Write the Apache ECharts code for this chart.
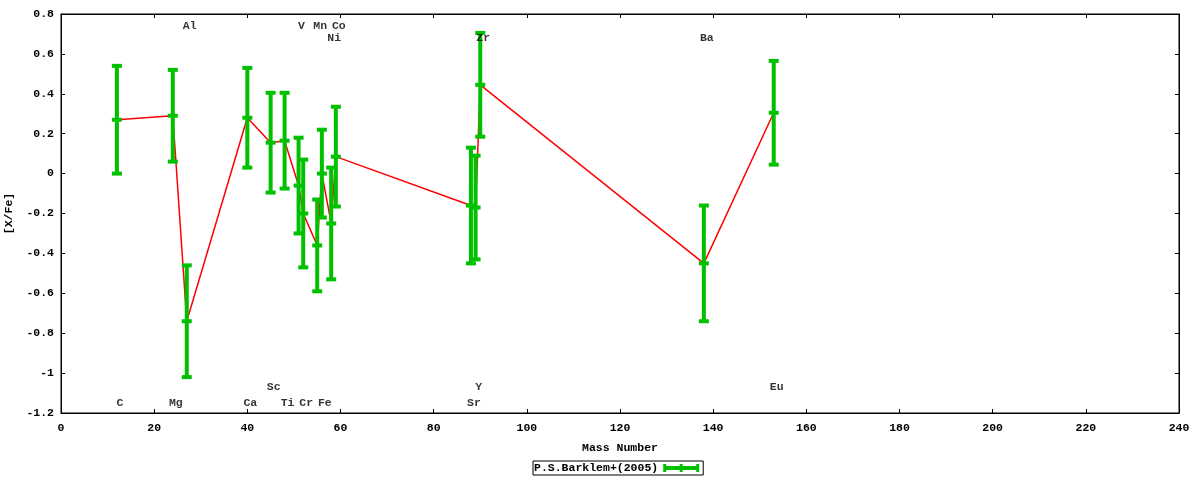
<!DOCTYPE html>
<html lang="en">
<head>
    <meta charset="UTF-8">
    <title>[X/Fe] vs Mass Number</title>
    <script src="https://cdn.jsdelivr.net/npm/echarts@6/dist/echarts.min.js"></script>
    <style>
        html, body { margin: 0; padding: 0; background: #fff; }
        #chart { width: 1200px; height: 480px; }
    </style>
</head>
<body>
<div id="chart"></div>
<script>
// abundance data, one entry per element (mass number, [X/Fe], error)
var masses = [12, 24, 27, 40, 45, 48, 51, 52, 55, 56, 58, 59, 88, 89, 90, 138, 153];
var values = [0.27, 0.29, -0.74, 0.28, 0.155, 0.165, -0.06, -0.20, -0.36, 0.00, -0.25, 0.085, -0.16, -0.17, 0.445, -0.45, 0.305];
var errors = [0.27, 0.23, 0.28, 0.25, 0.25, 0.24, 0.24, 0.27, 0.23, 0.22, 0.28, 0.25, 0.29, 0.26, 0.26, 0.29, 0.26];

// element labels: name, mass, y position
var labelNames = ['C', 'Mg', 'Al', 'Ca', 'Sc', 'Ti', 'V', 'Cr', 'Mn', 'Fe', 'Ni', 'Co', 'Sr', 'Y', 'Zr', 'Ba', 'Eu'];
var labelMass  = [12, 24, 27, 40, 45, 48, 51, 52, 55, 56, 58, 59, 88, 89, 90, 138, 153];
var labelY     = [-1.15, -1.15, 0.74, -1.15, -1.07, -1.15, 0.74, -1.15, 0.74, -1.15, 0.68, 0.74, -1.15, -1.07, 0.68, 0.68, -1.07];

var seriesName = 'P.S.Barklem+(2005)';
var green = '#00c000';
var font = 'Liberation Mono';

var errData = masses.map(function (m, i) { return [m, values[i], errors[i]]; });
var lineData = masses.map(function (m, i) { return [m, values[i]]; });
var labelData = labelNames.map(function (n, i) { return { name: n, value: [labelMass[i], labelY[i]] }; });

var chart = echarts.init(document.getElementById('chart'));

var tickStyle = { show: true, inside: true, length: 4, lineStyle: { color: '#000' } };
var lineStyleBlack = { show: true, onZero: false, lineStyle: { color: '#000' } };

var option = {
    animation: false,
    backgroundColor: '#fff',
    textStyle: { fontFamily: font, fontWeight: 'bold', fontSize: 11.5, color: '#000' },
    grid: {
        left: 61, right: 21, top: 14, bottom: 67,
        outerBoundsMode: 'none', containLabel: false,
        show: true, borderColor: '#000', borderWidth: 1
    },
    legend: {
        top: 461,
        left: 533,
        align: 'right',
        data: [seriesName],
        borderColor: '#000',
        borderWidth: 1,
        borderRadius: 0,
        padding: [1, 4, 1, 1],
        itemWidth: 36,
        itemHeight: 8,
        itemGap: 4,
        icon: 'path://M0,0h3v2h13.5v-2h3v2h13.5v-2h3v8h-3v-2h-13.5v2h-3v-2h-13.5v2h-3z',
        textStyle: { fontFamily: font, fontWeight: 'bold', fontSize: 11.5, color: '#000' }
    },
    xAxis: [{
        type: 'value', min: 0, max: 240, interval: 20,
        name: 'Mass Number', nameLocation: 'middle', nameGap: 29,
        nameTextStyle: { fontFamily: font, fontWeight: 'bold', fontSize: 11.5, color: '#000' },
        axisLine: lineStyleBlack,
        axisTick: tickStyle,
        axisLabel: { color: '#000', margin: 9, fontFamily: font, fontWeight: 'bold', fontSize: 11.5 },
        splitLine: { show: false }
    }, {
        type: 'value', position: 'top', min: 0, max: 240, interval: 20,
        axisLine: lineStyleBlack,
        axisTick: tickStyle,
        axisLabel: { show: false },
        splitLine: { show: false }
    }],
    yAxis: [{
        type: 'value', min: -1.2, max: 0.8, interval: 0.2,
        name: '[X/Fe]', nameLocation: 'middle', nameGap: 43, nameRotate: 90,
        nameTextStyle: { fontFamily: font, fontWeight: 'bold', fontSize: 11.5, color: '#000' },
        axisLine: lineStyleBlack,
        axisTick: tickStyle,
        axisLabel: {
            color: '#000', margin: 7, fontFamily: font, fontWeight: 'bold', fontSize: 11.5,
            formatter: function (v) { return String(Math.round(v * 10) / 10); }
        },
        splitLine: { show: false }
    }, {
        type: 'value', position: 'right', min: -1.2, max: 0.8, interval: 0.2,
        axisLine: lineStyleBlack,
        axisTick: tickStyle,
        axisLabel: { show: false },
        splitLine: { show: false }
    }],
    series: [
        {
            // connecting line
            type: 'line',
            data: lineData,
            symbol: 'none',
            lineStyle: { color: '#ff0000', width: 1.5 },
            z: 2,
            silent: true,
            legendHoverLink: false
        },
        {
            name: seriesName,
            type: 'custom',
            data: errData,
            itemStyle: { color: green },
            z: 3,
            renderItem: function (params, api) {
                var c = api.coord([api.value(0), api.value(1)]);
                var hi = api.coord([api.value(0), api.value(1) + api.value(2)]);
                var lo = api.coord([api.value(0), api.value(1) - api.value(2)]);
                var st = { fill: green };
                return {
                    type: 'group',
                    children: [
                        { type: 'rect', shape: { x: c[0] - 2, y: hi[1], width: 4, height: lo[1] - hi[1] }, style: st },
                        { type: 'rect', shape: { x: c[0] - 5, y: hi[1] - 2, width: 10, height: 4 }, style: st },
                        { type: 'rect', shape: { x: c[0] - 5, y: c[1] - 2, width: 10, height: 4 }, style: st },
                        { type: 'rect', shape: { x: c[0] - 5, y: lo[1] - 2, width: 10, height: 4 }, style: st }
                    ]
                };
            }
        },
        {
            // element names
            type: 'scatter',
            data: labelData,
            symbolSize: 0,
            silent: true,
            z: 4,
            label: {
                show: true,
                position: 'inside',
                offset: [3, 0],
                formatter: '{b}',
                color: '#000',
                fontFamily: font,
                fontWeight: 'bold',
                fontSize: 11.5
            }
        }
    ]
};

chart.setOption(option);
</script>
</body>
</html>
